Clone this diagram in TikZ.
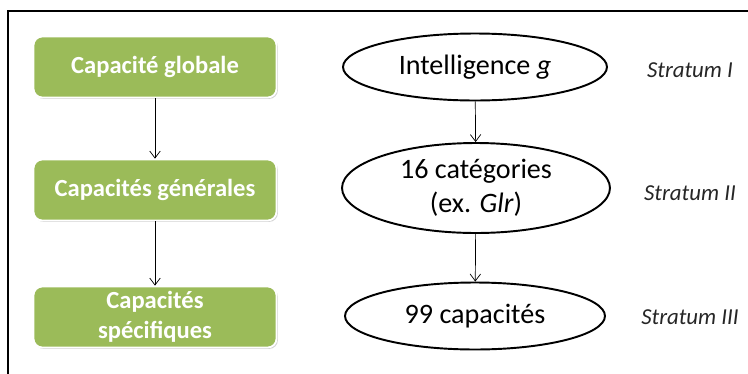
\documentclass[tikz,border=0pt]{standalone}
\usepackage{fontspec}
\setmainfont{Carlito}
\usepackage{tikz}
\usetikzlibrary{shapes.geometric, arrows.meta, positioning, shadows}

\definecolor{boxgreen}{HTML}{9BBB59}

\begin{document}
\begin{tikzpicture}[
    x=0.02cm, y=-0.02cm,
    level/.style={rectangle, rounded corners=5pt, fill=boxgreen, draw=white, line width=1pt,
                  minimum width=4.86cm, minimum height=1.22cm, align=center, inner sep=1pt,
                  text=white, font=\fontsize{14}{17}\selectfont\bfseries,
                  drop shadow={opacity=0.35, shadow xshift=0.8pt, shadow yshift=-0.8pt}},
    factor/.style={ellipse, draw, line width=1.1pt, minimum width=5.28cm, minimum height=1.34cm,
                   inner sep=0pt, align=center, font=\fontsize{16}{19.5}\selectfont},
    stratum/.style={font=\fontsize{13}{15}\selectfont\itshape, text=black!85},
    arrow/.style={-{Straight Barb[length=4pt, width=6pt]}, thin}
]
    \useasboundingbox (0,0) rectangle (748,373);
    % frame
    \draw[line width=1.2pt] (8,380) -- (8,11) -- (760,11);

    % left column
    \node[level] (glob) at (155,67) {Capacité globale};
    \node[level] (gen) at (155,190) {Capacités générales};
    \node[level] (spec) at (155,317) {Capacités\\spécifiques};

    % right column
    \node[factor] (g) at (475,67) {Intelligence \textit{g}};
    \node[factor, minimum width=5.36cm, minimum height=1.8cm] (cat) at (476,188) {16 catégories\\(ex. \textit{Glr})};
    \node[factor, minimum width=5.2cm] (cap) at (475,316) {99 capacités};

    % strata
    \node[stratum] (s1) at (690,70) {Stratum I};
    \node[stratum] (s2) at (690,193) {Stratum II};
    \node[stratum] (s3) at (690,317) {Stratum III};

    \draw[arrow] (glob) -- (gen);
    \draw[arrow] (gen) -- (spec);
    \draw[arrow] (g) -- (cat);
    \draw[arrow] (cat) -- (cap);
\end{tikzpicture}
\end{document}
